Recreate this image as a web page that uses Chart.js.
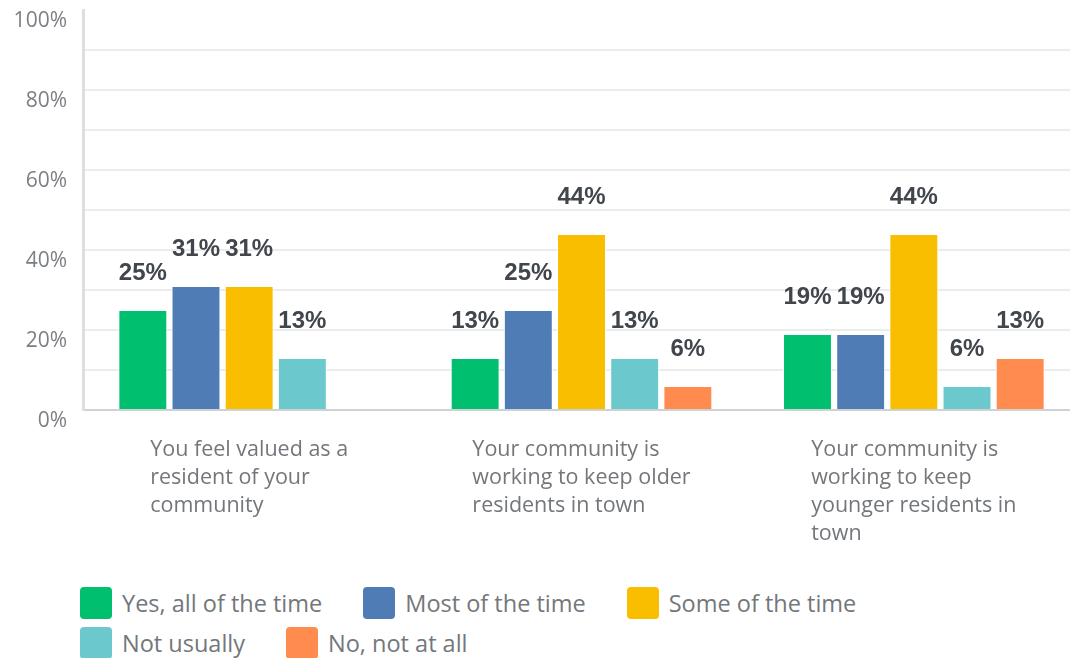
<!DOCTYPE html>
<html>
<head>
<meta charset="utf-8">
<script src="https://cdn.jsdelivr.net/npm/chart.js@4"></script>
<style>
  html, body { margin: 0; padding: 0; background: #fff; overflow: hidden; }
  #wrap { position: relative; width: 1080px; height: 565px; }
  #legend { position: absolute; left: 80px; top: 586px; width: 900px; display: flex; flex-wrap: wrap;
            font-family: "Open Sans", sans-serif; font-size: 23.5px; color: #73777b; }
  .item { display: flex; align-items: center; height: 34px; margin: 0 41px 6px 0; }
  .box { width: 32px; height: 32px; border-radius: 4px; margin-right: 10px; }
</style>
</head>
<body>
<div id="wrap"><canvas id="chart"></canvas></div>
<div id="legend"></div>
<script>
const categories = [
    ["You feel valued as a", "resident of your", "community"],
    ["Your community is", "working to keep older", "residents in town"],
    ["Your community is", "working to keep", "younger residents in", "town"]
];
const seriesNames = ["Yes, all of the time", "Most of the time", "Some of the time", "Not usually", "No, not at all"];
const seriesColors = ["#00bf6f", "#507cb6", "#f9be00", "#6bc8cd", "#ff8b4f"];
const yesAll = [25, 13, 19];
const mostTime = [31, 25, 19];
const someTime = [31, 44, 44];
const notUsually = [13, 13, 6];
const notAtAll = [null, 6, 13];
const yTicks = [0, 20, 40, 60, 80, 100];

const seriesValues = [yesAll, mostTime, someTime, notUsually, notAtAll];

const valueLabels = {
    id: "valueLabels",
    afterDatasetsDraw(chart) {
        const ctx = chart.ctx;
        ctx.save();
        ctx.font = "bold 24px 'Liberation Sans', sans-serif";
        ctx.fillStyle = "#41464c";
        ctx.textAlign = "center";
        ctx.textBaseline = "middle";
        chart.data.datasets.forEach((ds, i) => {
            chart.getDatasetMeta(i).data.forEach((bar, j) => {
                if (ds.data[j] == null) return;
                ctx.fillText(ds.data[j] + "%", bar.x, bar.y - 37);
            });
        });
        ctx.restore();
    }
};

const categoryLabels = {
    id: "categoryLabels",
    afterDraw(chart) {
        const ctx = chart.ctx;
        const xs = chart.scales.x;
        ctx.save();
        ctx.font = "21.5px 'Open Sans', sans-serif";
        ctx.fillStyle = "#73777b";
        ctx.textAlign = "left";
        ctx.textBaseline = "middle";
        categories.forEach((lines, i) => {
            const w = Math.max(...lines.map(l => ctx.measureText(l).width));
            const x0 = xs.getPixelForValue(i) - w / 2;
            lines.forEach((l, k) => ctx.fillText(l, x0, chart.chartArea.bottom + 40 + k * 28));
        });
        ctx.restore();
    }
};

new Chart(document.getElementById("chart"), {
    type: "bar",
    data: {
        labels: categories.map(c => c.join(" ")),
        datasets: seriesNames.map((name, i) => ({
            label: name,
            data: seriesValues[i],
            backgroundColor: seriesColors[i],
            borderColor: "#ffffff",
            borderWidth: 1,
            categoryPercentage: 0.8,
            barPercentage: 0.92
        }))
    },
    options: {
        responsive: true,
        maintainAspectRatio: false,
        animation: false,
        layout: { padding: { top: 10, bottom: 155, left: 0, right: 0 } },
        plugins: { legend: { display: false }, tooltip: { enabled: false } },
        scales: {
            x: {
                ticks: { display: false },
                grid: { display: false },
                border: { color: "#cfd2d4", width: 2 },
                afterFit(scale) { scale.height = 0; scale.paddingLeft = 0; scale.paddingRight = 0; }
            },
            y: {
                min: 0,
                max: 100,
                afterFit(scale) { scale.width = 83; scale.paddingTop = 0; scale.paddingBottom = 0; },
                ticks: {
                    stepSize: 10,
                    padding: 16,
                    labelOffset: 11,
                    color: "#7b7f83",
                    font: { family: "'Open Sans', sans-serif", size: 21 },
                    callback: v => yTicks.includes(v) ? v + "%" : ""
                },
                grid: {
                    drawTicks: false,
                    color: c => (c.tick && c.tick.value === 100) ? "rgba(0,0,0,0)" : "#ececec",
                    lineWidth: 2
                },
                border: { color: "#dcdfe1", width: 3 }
            }
        }
    },
    plugins: [valueLabels, categoryLabels]
});

const legend = document.getElementById("legend");
seriesNames.forEach((name, i) => {
    const it = document.createElement("div");
    it.className = "item";
    const b = document.createElement("span");
    b.className = "box";
    b.style.background = seriesColors[i];
    const t = document.createElement("span");
    t.textContent = name;
    it.appendChild(b);
    it.appendChild(t);
    legend.appendChild(it);
});
</script>
</body>
</html>
